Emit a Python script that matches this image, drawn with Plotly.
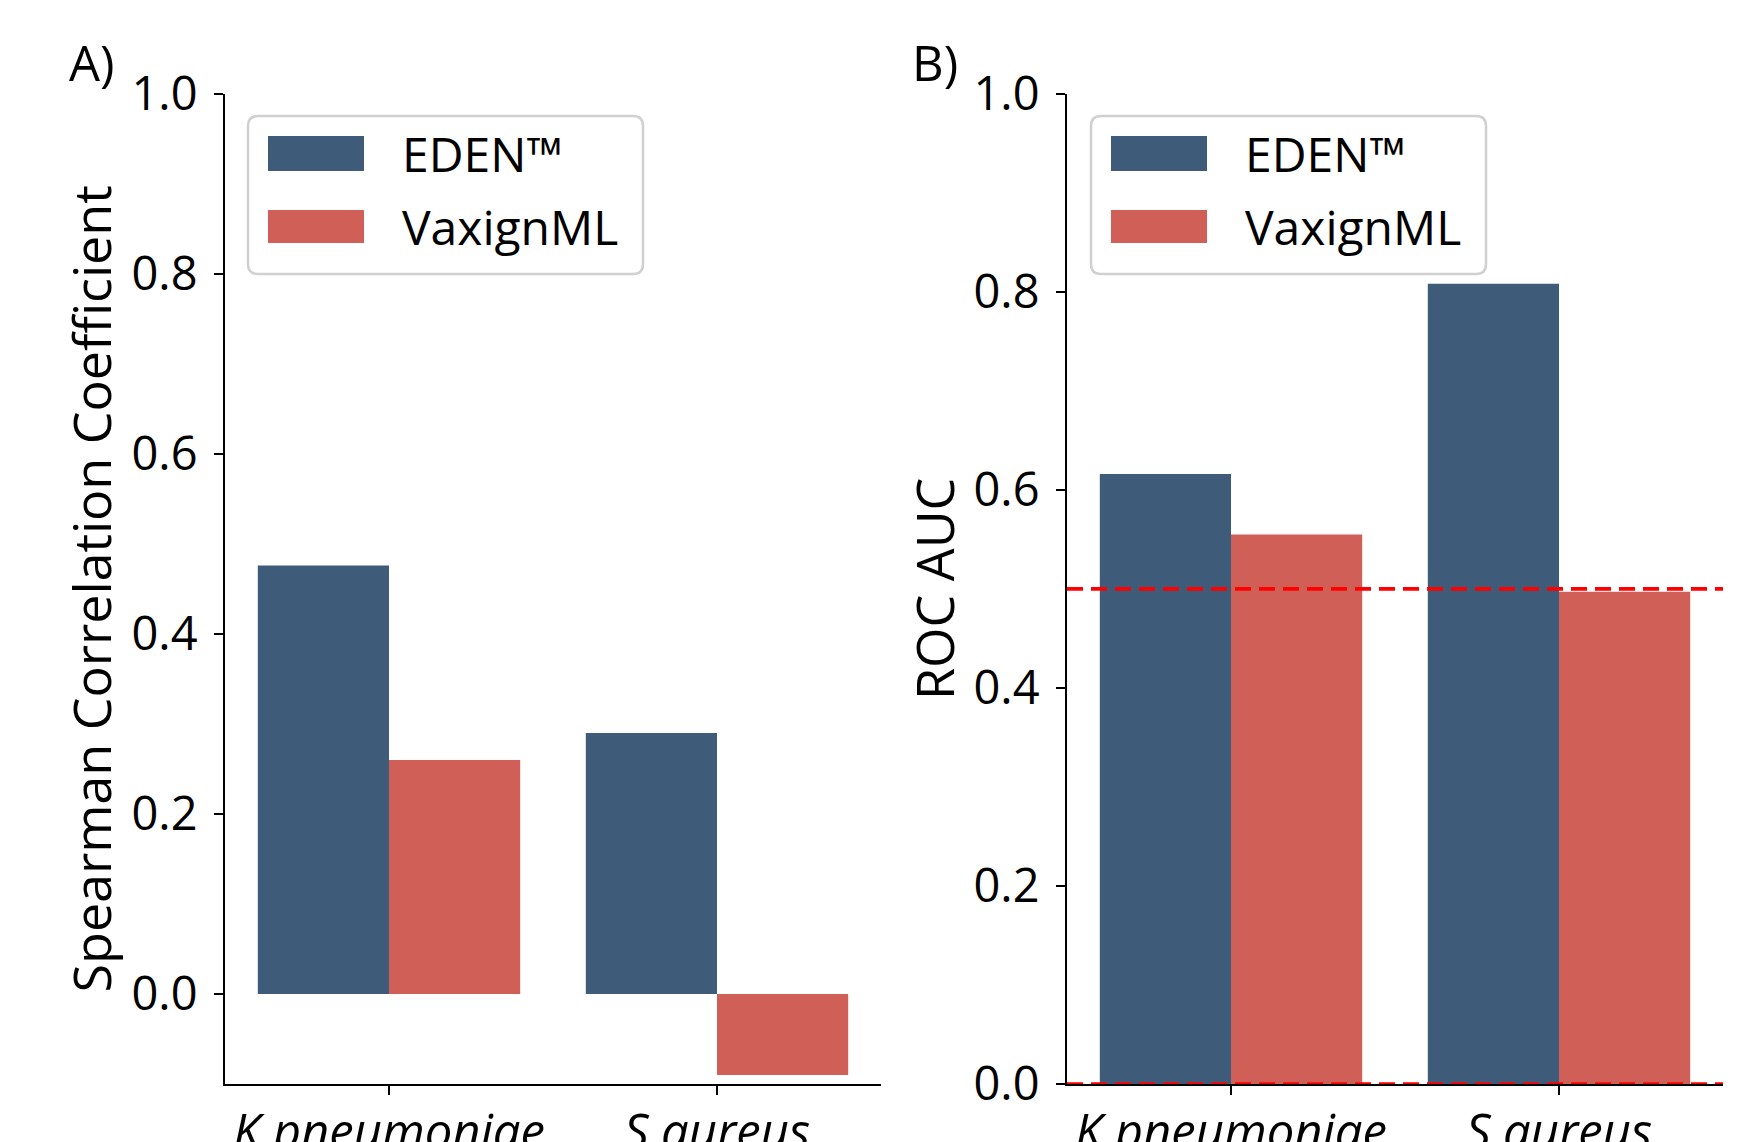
import plotly.graph_objects as go

W, H = 1748, 1142

categories = ["K.pneumoniae", "S.aureus"]
series_names = ["EDEN™", "VaxignML"]
spearman_eden = [0.476, 0.290]
spearman_vaxign = [0.260, -0.090]
auc_eden = [0.616, 0.808]
auc_vaxign = [0.555, 0.497]
tick_vals = [0.0, 0.2, 0.4, 0.6, 0.8, 1.0]
tick_text = ["0.0", "0.2", "0.4", "0.6", "0.8", "1.0"]
chance_level = 0.5

colors = ["#3e5c79", "#d05f58"]
FONT = "Open Sans"
FS = 47


def px_x(v):
    return v / W


def px_y(v):
    return 1 - v / H


fig = go.Figure()

fig.add_trace(go.Bar(x=categories, y=spearman_eden, name=series_names[0],
                     marker=dict(color=colors[0], line=dict(width=0)),
                     xaxis="x", yaxis="y", showlegend=False))
fig.add_trace(go.Bar(x=categories, y=spearman_vaxign, name=series_names[1],
                     marker=dict(color=colors[1], line=dict(width=0)),
                     xaxis="x", yaxis="y", showlegend=False))
fig.add_trace(go.Bar(x=categories, y=auc_eden, name=series_names[0],
                     marker=dict(color=colors[0], line=dict(width=0)),
                     xaxis="x2", yaxis="y2", showlegend=False))
fig.add_trace(go.Bar(x=categories, y=auc_vaxign, name=series_names[1],
                     marker=dict(color=colors[1], line=dict(width=0)),
                     xaxis="x2", yaxis="y2", showlegend=False))

ydom = [px_y(1084), px_y(93.7)]

axis_common = dict(showline=True, linecolor="black", linewidth=2.2,
                   ticks="outside", ticklen=9, tickwidth=2.2, tickcolor="black",
                   showgrid=False, zeroline=False, mirror=False,
                   automargin=False)

xfont = dict(family=FONT, size=49, color="black", style="italic")
yfont = dict(family=FONT, size=FS, color="black")
tfont = dict(family=FONT, size=52, color="black")

fig.update_layout(
    width=W, height=H,
    margin=dict(l=0, r=0, t=0, b=0),
    paper_bgcolor="white", plot_bgcolor="white",
    barmode="group", bargap=0.2, bargroupgap=0.0,
    font=dict(family=FONT, size=FS, color="black"),
    xaxis=dict(domain=[px_x(225), px_x(881)], range=[-0.5, 1.5],
               anchor="y", tickfont=xfont, ticklabelstandoff=-5, **axis_common),
    yaxis=dict(domain=ydom, range=[-0.1, 1.0], anchor="x",
               tickvals=tick_vals, ticktext=tick_text, tickfont=yfont,
               ticklabelstandoff=7,
               title=dict(text="Spearman Correlation Coefficient",
                          font=tfont, standoff=3),
               **axis_common),
    xaxis2=dict(domain=[px_x(1067), px_x(1723)], range=[-0.5, 1.5],
                anchor="y2", tickfont=xfont, ticklabelstandoff=-5, **axis_common),
    yaxis2=dict(domain=ydom, range=[0.0, 1.0], anchor="x2",
                tickvals=tick_vals, ticktext=tick_text, tickfont=yfont,
                ticklabelstandoff=7,
                title=dict(text="ROC AUC", font=tfont, standoff=2),
                **axis_common),
)

# chance-level and zero reference lines on panel B
for yv in [chance_level, 0.0]:
    fig.add_shape(type="line", xref="x2 domain", yref="y2",
                  x0=0, x1=1, y0=yv, y1=yv, layer="above",
                  line=dict(color="red", width=3.6, dash="16px,8px"))


def rounded_rect(x0, y0, x1, y1, r):
    rx, ry = r / W, r / H
    X0, X1 = px_x(x0), px_x(x1)
    Y0, Y1 = px_y(y0), px_y(y1)  # Y0 top, Y1 bottom
    return (f"M {X0+rx},{Y0} L {X1-rx},{Y0} Q {X1},{Y0} {X1},{Y0-ry} "
            f"L {X1},{Y1+ry} Q {X1},{Y1} {X1-rx},{Y1} "
            f"L {X0+rx},{Y1} Q {X0},{Y1} {X0},{Y1+ry} "
            f"L {X0},{Y0-ry} Q {X0},{Y0} {X0+rx},{Y0} Z")


def add_legend(bx0, bx1):
    by0, by1 = 116, 274
    fig.add_shape(type="path", xref="paper", yref="paper",
                  path=rounded_rect(bx0, by0, bx1, by1, 10),
                  fillcolor="rgba(255,255,255,0.85)",
                  line=dict(color="#d0d0d0", width=2.5), layer="above")
    rows = [(136, 171), (210, 243)]
    for i, (t, b) in enumerate(rows):
        fig.add_shape(type="rect", xref="paper", yref="paper",
                      x0=px_x(bx0 + 20), x1=px_x(bx0 + 116),
                      y0=px_y(b), y1=px_y(t),
                      fillcolor=colors[i], line=dict(width=0), layer="above")
        fig.add_annotation(xref="paper", yref="paper",
                           x=px_x(bx0 + 152), y=px_y((t + b) / 2),
                           text=series_names[i], showarrow=False,
                           xanchor="left", yanchor="middle",
                           font=dict(family=FONT, size=48, color="black"))


add_legend(248, 643)
add_legend(1091, 1486)

for label, cx in [("A)", 91), ("B)", 935)]:
    fig.add_annotation(xref="paper", yref="paper", x=px_x(cx), y=px_y(62),
                       text=label, showarrow=False, xanchor="center",
                       yanchor="middle",
                       font=dict(family=FONT, size=49, color="black"))

fig.write_html("out.html",
               config={"displayModeBar": False},
               post_script="document.body.style.margin='0';"
                           "document.body.style.overflow='hidden';")
